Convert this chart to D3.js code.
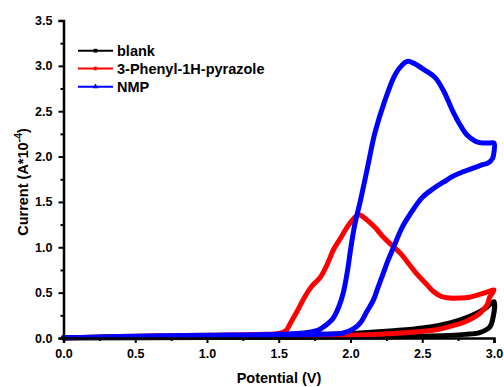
<!DOCTYPE html>
<html>
<head>
<meta charset="utf-8">
<script src="https://cdn.jsdelivr.net/npm/d3@7"></script>
<style>
  body { margin: 0; background: #fff; }
  text { font-family: "Liberation Sans", Arial, sans-serif; font-weight: bold; }
</style>
</head>
<body>
<svg id="chart" width="504" height="387"></svg>
<script>
// tick labels
const xTicks = [0.0, 0.5, 1.0, 1.5, 2.0, 2.5, 3.0];
const yTicks = [0.0, 0.5, 1.0, 1.5, 2.0, 2.5, 3.0, 3.5];

// series: potential (V) and current (A*10^-4), forward then reverse scan
const blankV = [0, 0.5, 1.0, 1.5, 2.0, 2.3, 2.5, 2.7, 2.8, 2.9, 2.95, 3.0,
  2.99, 2.97, 2.9, 2.8, 2.5, 2.0, 1.0, 0];
const blankI = [0, 0.01, 0.02, 0.03, 0.05, 0.08, 0.11, 0.17, 0.22, 0.29, 0.34, 0.40,
  0.2, 0.12, 0.06, 0.04, 0.02, 0.01, 0.005, 0];

const pyrazoleV = [0, 0.5, 1.0, 1.4, 1.5, 1.55, 1.58, 1.63, 1.68, 1.73, 1.79, 1.84, 1.88, 1.93, 1.98, 2.03, 2.06,
  2.1, 2.17, 2.23, 2.29, 2.35, 2.4, 2.46, 2.52, 2.58, 2.63, 2.69, 2.76, 2.83, 2.9, 2.96, 3.0,
  2.97, 2.95, 2.9, 2.8, 2.7, 2.6, 2.4, 2.2, 2.0, 1.5, 1.0, 0.5, 0];
const pyrazoleI = [0, 0.02, 0.03, 0.04, 0.05, 0.08, 0.16, 0.3, 0.45, 0.57, 0.67, 0.82, 0.97, 1.1, 1.23, 1.33, 1.36,
  1.32, 1.22, 1.11, 1.02, 0.93, 0.83, 0.71, 0.61, 0.51, 0.46, 0.44, 0.44, 0.45, 0.48, 0.51, 0.53,
  0.45, 0.36, 0.27, 0.18, 0.13, 0.09, 0.06, 0.04, 0.03, 0.02, 0.015, 0.01, 0.005];

const nmpV = [0, 0.5, 1.0, 1.5, 1.7, 1.78, 1.81, 1.85, 1.88, 1.92, 1.95, 1.98, 2.0, 2.03, 2.07, 2.12, 2.17, 2.24,
  2.31, 2.36, 2.4, 2.44, 2.52, 2.59, 2.65, 2.71, 2.76, 2.81, 2.87, 2.92, 2.97, 3.0,
  3.0, 2.99, 2.96, 2.92, 2.85, 2.78, 2.71, 2.65, 2.58, 2.5, 2.43, 2.36, 2.3, 2.26, 2.23, 2.19, 2.16,
  2.11, 2.07, 2.02, 1.95, 1.8, 1.5, 1.0, 0.5, 0];
const nmpI = [0, 0.02, 0.03, 0.04, 0.06, 0.09, 0.12, 0.17, 0.22, 0.35, 0.50, 0.75, 0.97, 1.25, 1.52, 1.89, 2.26, 2.62,
  2.90, 3.01, 3.05, 3.03, 2.95, 2.87, 2.72, 2.51, 2.36, 2.24, 2.17, 2.15, 2.15, 2.15,
  2.05, 1.98, 1.93, 1.91, 1.87, 1.83, 1.78, 1.72, 1.65, 1.55, 1.40, 1.22, 1.0, 0.85, 0.72, 0.55, 0.42,
  0.28, 0.17, 0.10, 0.055, 0.04, 0.03, 0.02, 0.01, 0.005];

const seriesNames = ['blank', '3-Phenyl-1H-pyrazole', 'NMP'];
const seriesColors = ['#000000', '#ff0000', '#0000ff'];

const series = [
  {name: seriesNames[0], color: seriesColors[0], v: blankV, i: blankI, sym: d3.symbolSquare},
  {name: seriesNames[1], color: seriesColors[1], v: pyrazoleV, i: pyrazoleI, sym: d3.symbolCircle},
  {name: seriesNames[2], color: seriesColors[2], v: nmpV, i: nmpI, sym: d3.symbolTriangle}
];

const svg = d3.select('#chart');

const x = d3.scaleLinear().domain([0, 3]).range([63.5, 494]);
const y = d3.scaleLinear().domain([0, 3.5]).range([338, 20.5]);

// curves
const line = d3.line()
  .x(d => x(d[0]))
  .y(d => y(d[1]))
  .curve(d3.curveCatmullRom.alpha(0.5));

const plot = svg.append('g');
series.forEach(s => {
  plot.append('path')
    .datum(s.v.map((v, k) => [v, s.i[k]]))
    .attr('fill', 'none')
    .attr('stroke', s.color)
    .attr('stroke-width', 5)
    .attr('stroke-linejoin', 'round')
    .attr('stroke-linecap', 'round')
    .attr('d', line);
});

// axes
const xMinor = d3.range(0.25, 3, 0.5);
const yMinor = d3.range(0.25, 3.5, 0.5);

svg.append('g')
  .attr('transform', `translate(0,${y(0)})`)
  .call(d3.axisBottom(x).tickValues(xTicks).tickFormat(d3.format('.1f')).tickSize(5).tickPadding(6));
svg.append('g')
  .attr('transform', `translate(0,${y(0)})`)
  .call(d3.axisBottom(x).tickValues(xMinor).tickFormat('').tickSize(3))
  .select('.domain').remove();

svg.append('g')
  .attr('transform', `translate(${x(0)},0)`)
  .call(d3.axisLeft(y).tickValues(yTicks).tickFormat(d3.format('.1f')).tickSize(5).tickPadding(6));
svg.append('g')
  .attr('transform', `translate(${x(0)},0)`)
  .call(d3.axisLeft(y).tickValues(yMinor).tickFormat('').tickSize(3))
  .select('.domain').remove();

svg.selectAll('.domain').attr('stroke-width', 2.5).attr('stroke', '#000');
svg.selectAll('.tick line').attr('stroke-width', 2).attr('stroke', '#000');
svg.selectAll('.tick text')
  .attr('fill', '#000')
  .style('font-size', '12.5px')
  .style('font-weight', 'bold')
  .style('font-family', '"Liberation Sans", Arial, sans-serif');

// axis titles
svg.append('text')
  .attr('x', 279)
  .attr('y', 383)
  .attr('text-anchor', 'middle')
  .style('font-size', '14.5px')
  .text('Potential (V)');

const yTitle = svg.append('text')
  .attr('transform', 'translate(28,182) rotate(-90)')
  .attr('text-anchor', 'middle')
  .style('font-size', '14.5px');
yTitle.append('tspan').text('Current (A*10');
yTitle.append('tspan').attr('dy', -6).style('font-size', '10.5px').text('-4');
yTitle.append('tspan').attr('dy', 6).text(')');

// legend
const legend = svg.append('g');
const legendY = [50.7, 68.5, 86.7];
series.forEach((s, k) => {
  const g = legend.append('g').attr('transform', `translate(0,${legendY[k]})`);
  g.append('line')
    .attr('x1', 78).attr('x2', 113)
    .attr('stroke', s.color).attr('stroke-width', 2);
  g.append('path')
    .attr('transform', 'translate(95.5,0)')
    .attr('d', d3.symbol().type(s.sym).size(14))
    .attr('fill', s.color);
  g.append('text')
    .attr('x', 117)
    .attr('y', 5)
    .style('font-size', '14.5px')
    .text(s.name);
});
</script>
</body>
</html>
